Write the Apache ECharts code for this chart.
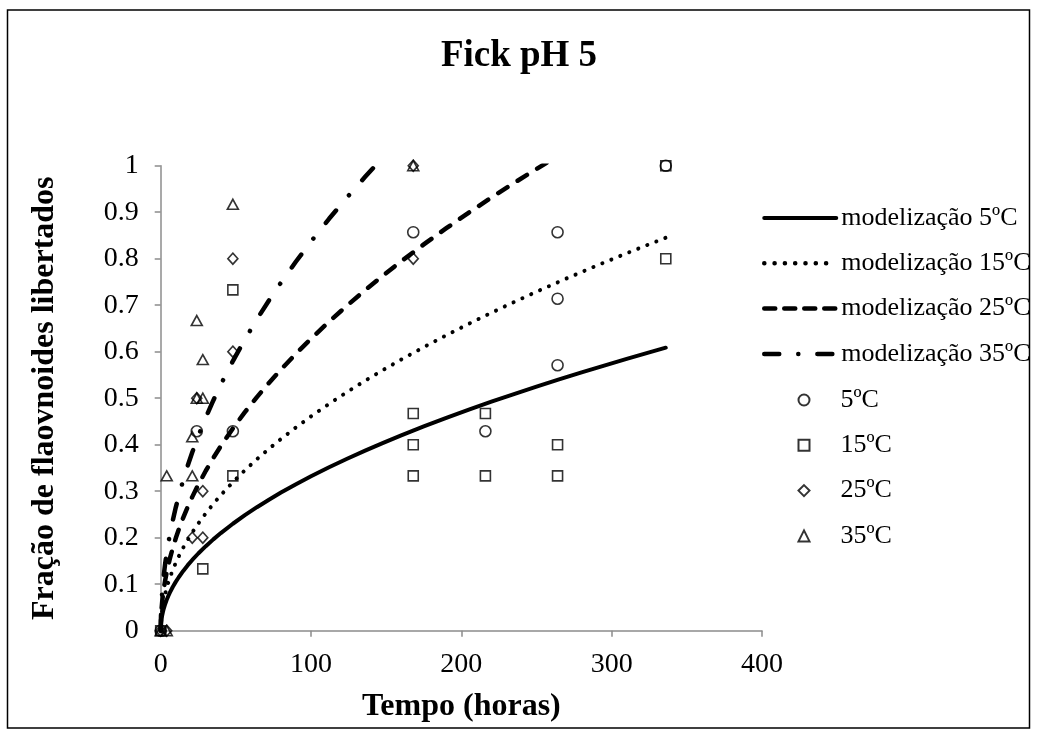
<!DOCTYPE html>
<html>
<head>
<meta charset="utf-8">
<script src="https://cdn.jsdelivr.net/npm/echarts@6/dist/echarts.min.js"></script>
<style>
  html, body { margin: 0; padding: 0; background: #fff; }
  #chart { width: 1038px; height: 736px; }
</style>
</head>
<body>
<div id="chart"></div>
<script>
// Release profile at pH 5: Fick model curves and measured fractions
const FONT = "'Liberation Serif', 'Times New Roman', serif";

// model curves, hours vs fraction released
const modelTime = [0, 0.25, 0.5, 1, 1.5, 2, 3, 4, 5, 6, 8, 10, 12, 15, 18, 21, 25, 30, 35, 40, 48, 56, 64, 72, 80, 90, 100, 112, 124, 136, 148, 160, 175, 190, 205, 220, 235, 250, 265, 280, 295, 310, 325, 336];
const fick5  = [0, 0.0166, 0.0235, 0.0332, 0.0407, 0.0470, 0.0575, 0.0664, 0.0742, 0.0813, 0.0939, 0.1050, 0.1150, 0.1286, 0.1409, 0.1521, 0.1660, 0.1818, 0.1964, 0.2100, 0.2300, 0.2484, 0.2656, 0.2817, 0.2970, 0.3150, 0.3320, 0.3514, 0.3697, 0.3872, 0.4039, 0.4200, 0.4392, 0.4576, 0.4753, 0.4924, 0.5089, 0.5249, 0.5405, 0.5555, 0.5702, 0.5845, 0.5985, 0.6086];
const fick15 = [0, 0.0231, 0.0326, 0.0461, 0.0565, 0.0652, 0.0799, 0.0922, 0.1031, 0.1129, 0.1304, 0.1458, 0.1597, 0.1785, 0.1956, 0.2113, 0.2305, 0.2525, 0.2727, 0.2916, 0.3194, 0.3450, 0.3688, 0.3912, 0.4123, 0.4373, 0.4610, 0.4879, 0.5133, 0.5376, 0.5608, 0.5831, 0.6098, 0.6354, 0.6601, 0.6838, 0.7067, 0.7289, 0.7505, 0.7714, 0.7918, 0.8117, 0.8311, 0.8450];
const fick25 = [0, 0.0314, 0.0444, 0.0628, 0.0769, 0.0888, 0.1088, 0.1256, 0.1404, 0.1538, 0.1776, 0.1986, 0.2175, 0.2432, 0.2664, 0.2878, 0.3140, 0.3440, 0.3715, 0.3972, 0.4351, 0.4700, 0.5024, 0.5329, 0.5617, 0.5958, 0.6280, 0.6646, 0.6993, 0.7324, 0.7640, 0.7944, 0.8308, 0.8656, 0.8992, 0.9315, 0.9627, 0.9930, 1.0223, 1.0508, 1.0786, 1.1057, 1.1321, 1.1511];
const fick35 = [0, 0.0419, 0.0592, 0.0837, 0.1025, 0.1184, 0.1450, 0.1674, 0.1872, 0.2050, 0.2367, 0.2647, 0.2899, 0.3242, 0.3551, 0.3836, 0.4185, 0.4584, 0.4952, 0.5294, 0.5799, 0.6264, 0.6696, 0.7102, 0.7486, 0.7940, 0.8370, 0.8858, 0.9320, 0.9761, 1.0183, 1.0587, 1.1073, 1.1537, 1.1984, 1.2415, 1.2831, 1.3234, 1.3625, 1.4006, 1.4376, 1.4737, 1.5089, 1.5342];

// measured points [hours, fraction]
const obs5  = [[0, 0], [24, 0.429], [48, 0.429], [168, 0.857], [216, 0.429], [264, 0.857], [264, 0.714], [264, 0.571], [336, 1]];
const obs15 = [[0, 0], [28, 0.133], [48, 0.333], [48, 0.733], [168, 0.467], [168, 0.4], [168, 0.333], [216, 0.467], [216, 0.333], [264, 0.4], [264, 0.333], [336, 1], [336, 0.8]];
const obs25 = [[0, 0], [4, 0], [21, 0.2], [28, 0.2], [28, 0.3], [24, 0.5], [48, 0.6], [48, 0.8], [168, 1], [168, 0.8]];
const obs35 = [[0, 0], [4, 0], [4, 0.333], [21, 0.333], [21, 0.417], [24, 0.5], [28, 0.5], [28, 0.583], [24, 0.667], [48, 0.917], [168, 1]];

const modelNames = ['modelização 5ºC', 'modelização 15ºC', 'modelização 25ºC', 'modelização 35ºC'];
const obsNames = ['5ºC', '15ºC', '25ºC', '35ºC'];
const xTicks = { min: 0, max: 400, step: 100 };
const yTicks = { min: 0, max: 1, step: 0.1 };

const pairs = (xs, ys) => xs.map((x, i) => [x, ys[i]]);

const lineStyles = [
  { width: 4, type: 'solid', cap: 'round' },
  { width: 4, type: [0.1, 9.6], cap: 'round' },
  { width: 4.5, type: [11, 12], cap: 'round' },
  { width: 4.5, type: [16, 20, 0.1, 20], cap: 'round' }
];
const legendLineTypes = ['solid', [0.1, 10.2], [11, 9], [15, 19, 0.1, 19]];
const modelData = [fick5, fick15, fick25, fick35];

const symbols = ['circle', 'rect', 'diamond', 'triangle'];
const symbolSizes = [11, 10, [10, 11], [11, 10]];
const obsData = [obs5, obs15, obs25, obs35];

const series = [];
modelData.forEach((ys, i) => {
  series.push({
    name: modelNames[i],
    type: 'line',
    data: pairs(modelTime, ys),
    showSymbol: false,
    symbol: 'none',
    clip: true,
    lineStyle: Object.assign({ color: '#000', join: 'round' }, lineStyles[i]),
    itemStyle: { color: '#000' },
    z: 2
  });
});
obsData.forEach((pts, i) => {
  series.push({
    name: obsNames[i],
    type: 'scatter',
    data: pts,
    symbol: symbols[i],
    symbolSize: symbolSizes[i],
    clip: false,
    itemStyle: { color: 'rgba(255,255,255,0)', borderColor: '#000', borderWidth: 1.6 },
    z: 3
  });
});

const legendText = { fontFamily: FONT, fontSize: 26, color: '#000', lineHeight: 26 };

const chart = echarts.init(document.getElementById('chart'), null, { renderer: 'canvas' });
chart.setOption({
  backgroundColor: '#fff',
  animation: false,
  textStyle: { fontFamily: FONT, color: '#000' },
  title: {
    text: 'Fick pH 5',
    left: 519,
    textAlign: 'center',
    top: 38,
    padding: 0,
    textStyle: { fontFamily: FONT, fontSize: 37, fontWeight: 'bold', color: '#000' }
  },
  graphic: [{
    type: 'rect',
    shape: { x: 7.5, y: 10, width: 1022, height: 718 },
    style: { fill: 'none', stroke: '#000', lineWidth: 1.5 },
    silent: true,
    z: -1
  }],
  grid: { left: 160.7, right: 276, top: 165.7, bottom: 105.3, containLabel: false },
  legend: [{
    data: modelNames.map((n, i) => ({
      name: n,
      itemStyle: { color: 'rgba(0,0,0,0)', borderWidth: 0, opacity: 0 },
      lineStyle: { color: '#000', width: i === 0 ? 4 : 4.5, type: legendLineTypes[i], cap: 'round', opacity: 1 }
    })),
    orient: 'vertical',
    left: 762,
    top: 205,
    padding: 0,
    itemWidth: 72,
    itemHeight: 14,
    itemGap: 19.3,
    textStyle: legendText,
    selectedMode: false
  }, {
    data: obsNames,
    orient: 'vertical',
    left: 797.5,
    top: 387,
    padding: 0,
    itemWidth: 11,
    itemHeight: 11,
    itemGap: 19.3,
    textStyle: Object.assign({ padding: [0, 0, 0, 26] }, legendText),
    selectedMode: false
  }],
  xAxis: {
    type: 'value',
    min: xTicks.min,
    max: xTicks.max,
    interval: xTicks.step,
    name: 'Tempo (horas)',
    nameLocation: 'middle',
    nameGap: 60,
    nameTextStyle: { fontFamily: FONT, fontSize: 32, fontWeight: 'bold', color: '#000' },
    axisLine: { show: true, onZero: false, lineStyle: { color: '#8c8c8c', width: 1.5 } },
    axisTick: { show: true, length: 6, lineStyle: { color: '#8c8c8c', width: 1.5 } },
    axisLabel: { margin: 20, fontFamily: FONT, fontSize: 28, color: '#000' },
    splitLine: { show: false }
  },
  yAxis: {
    type: 'value',
    min: yTicks.min,
    max: yTicks.max,
    interval: yTicks.step,
    name: 'Fração de flaovnoides libertados',
    nameLocation: 'middle',
    nameGap: 100,
    nameTextStyle: { fontFamily: FONT, fontSize: 32, fontWeight: 'bold', color: '#000' },
    axisLine: { show: true, onZero: false, lineStyle: { color: '#8c8c8c', width: 1.5 } },
    axisTick: { show: true, length: 6, lineStyle: { color: '#8c8c8c', width: 1.5 } },
    axisLabel: {
      margin: 22, fontFamily: FONT, fontSize: 28, color: '#000',
      formatter: v => String(Math.round(v * 10) / 10)
    },
    splitLine: { show: false }
  },
  series: series
});
</script>
</body>
</html>
